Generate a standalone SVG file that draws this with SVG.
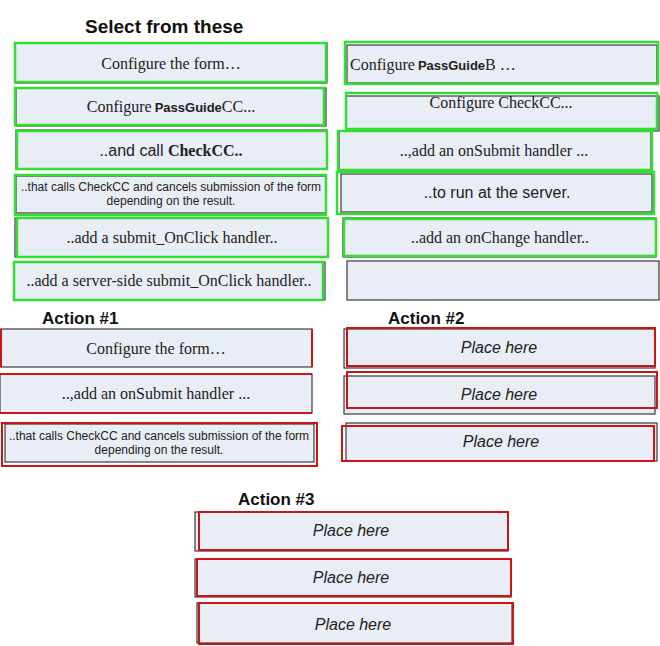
<svg xmlns="http://www.w3.org/2000/svg" width="660" height="646" viewBox="0 0 660 646">
<style>
.bx{fill:#e9edf5;stroke:#3a3a3a;stroke-width:1.2}
.g{fill:none;stroke:#33dd33;stroke-width:2.5}
.r{fill:none;stroke:#cc1414;stroke-width:2}
.sf{font-family:"Liberation Serif",serif;font-size:16px;fill:#222}
.ss{font-family:"Liberation Sans",sans-serif;font-size:16px;fill:#222}
.sm{font-family:"Liberation Sans",sans-serif;font-size:12px;fill:#222}
.it{font-family:"Liberation Sans",sans-serif;font-size:16px;font-style:italic;fill:#222}
.hd{font-family:"Liberation Sans",sans-serif;font-weight:bold;fill:#111}
.pg{font-family:"Liberation Sans",sans-serif;font-weight:bold;font-size:13px}
</style>
<rect width="660" height="646" fill="#fff"/>
<text class="hd" x="85" y="33" font-size="19">Select from these</text>
<text class="hd" x="42" y="324" font-size="17">Action #1</text>
<text class="hd" x="388" y="324" font-size="17">Action #2</text>
<text class="hd" x="238" y="505" font-size="17">Action #3</text>

<g id="s1"><rect class="bx" x="15" y="43" width="312" height="40"/><rect class="g" x="15" y="43" width="311" height="39"/><text class="sf" x="171" y="69" text-anchor="middle">Configure the form…</text></g>
<g id="s2"><rect class="bx" x="16" y="88" width="310" height="38"/><rect class="g" x="15" y="88" width="309" height="37"/><text class="sf" x="171" y="112" text-anchor="middle">Configure<tspan class="pg" dx="3">PassGuide</tspan>CC...</text></g>
<g id="s3"><rect class="bx" x="16" y="130" width="311" height="39"/><rect class="g" x="17" y="131" width="310" height="38"/><text class="ss" x="171" y="156" text-anchor="middle">..and call <tspan font-family="Liberation Serif,serif" font-weight="bold">CheckCC..</tspan></text></g>
<g id="s4"><rect class="bx" x="16" y="176" width="310" height="37"/><rect class="g" x="15" y="175" width="311" height="40"/><text class="sm" x="171" y="191" text-anchor="middle">..that calls CheckCC and cancels submission of the form</text><text class="sm" x="171" y="205" text-anchor="middle">depending on the result.</text></g>
<g id="s5"><rect class="bx" x="15" y="218" width="313" height="39"/><rect class="g" x="17" y="218" width="311" height="39"/><text class="sf" x="172" y="243" text-anchor="middle">..add a submit_OnClick handler..</text></g>
<g id="s6"><rect class="bx" x="14" y="262" width="311" height="38"/><rect class="g" x="14" y="262" width="309" height="38"/><text class="sf" x="169" y="286" text-anchor="middle">..add a server-side submit_OnClick handler..</text></g>

<g id="s7"><rect class="bx" x="347" y="45" width="310" height="38"/><rect class="g" x="345" y="42" width="313" height="42"/><text class="sf" x="350" y="70">Configure<tspan class="pg" dx="3">PassGuide</tspan>B …</text></g>
<g id="s8"><rect class="bx" x="346" y="96" width="313" height="35"/><rect class="g" x="346" y="93" width="311" height="36"/><text class="sf" x="501" y="108" text-anchor="middle">Configure CheckCC...</text></g>
<g id="s9"><rect class="bx" x="339" y="131" width="312" height="39"/><rect class="g" x="338" y="131" width="314" height="39"/><text class="sf" x="494" y="156" text-anchor="middle">..,add an onSubmit handler ...</text></g>
<g id="s10"><rect class="bx" x="341" y="174" width="311" height="38"/><rect class="g" x="337" y="172" width="317" height="42"/><text class="ss" x="497" y="198" text-anchor="middle">..to run at the server.</text></g>
<g id="s11"><rect class="bx" x="343" y="218" width="313" height="39"/><rect class="g" x="344" y="219" width="312" height="37"/><text class="sf" x="500" y="243" text-anchor="middle">..add an onChange handler..</text></g>
<g id="s12"><rect class="bx" x="347" y="261" width="312" height="39"/></g>

<g id="a1"><rect class="bx" x="0" y="329" width="312" height="38"/><path class="r" d="M1,329V367M312,329V367"/><text class="sf" x="156" y="354" text-anchor="middle">Configure the form…</text></g>
<g id="a2"><rect class="bx" x="0" y="374" width="312" height="39"/><path class="r" d="M0,374H312M0,413H312"/><text class="sf" x="156" y="399" text-anchor="middle">..,add an onSubmit handler ...</text></g>
<g id="a3"><rect class="bx" x="5" y="424" width="309" height="38"/><rect class="r" x="2" y="423" width="315" height="43"/><text class="sm" x="159" y="440" text-anchor="middle">..that calls CheckCC and cancels submission of the form</text><text class="sm" x="159" y="454" text-anchor="middle">depending on the result.</text></g>

<g id="b1"><rect class="bx" x="344" y="329" width="311" height="39"/><rect class="r" x="347" y="328" width="308" height="38"/><text class="it" x="499" y="353" text-anchor="middle">Place here</text></g>
<g id="b2"><rect class="bx" x="344" y="376" width="311" height="38"/><rect class="r" x="347" y="372" width="310" height="36"/><text class="it" x="499" y="400" text-anchor="middle">Place here</text></g>
<g id="b3"><rect class="bx" x="346" y="423" width="311" height="38"/><rect class="r" x="342" y="426" width="312" height="35"/><text class="it" x="501" y="447" text-anchor="middle">Place here</text></g>

<g id="c1"><rect class="bx" x="195" y="512" width="313" height="39"/><rect class="r" x="199" y="512" width="309" height="38"/><text class="it" x="351" y="536" text-anchor="middle">Place here</text></g>
<g id="c2"><rect class="bx" x="195" y="559" width="316" height="38"/><rect class="r" x="197" y="559" width="314" height="37"/><text class="it" x="351" y="583" text-anchor="middle">Place here</text></g>
<g id="c3"><rect class="bx" x="197" y="603" width="315" height="40"/><rect class="r" x="199" y="603" width="314" height="41"/><text class="it" x="353" y="630" text-anchor="middle">Place here</text></g>
</svg>
